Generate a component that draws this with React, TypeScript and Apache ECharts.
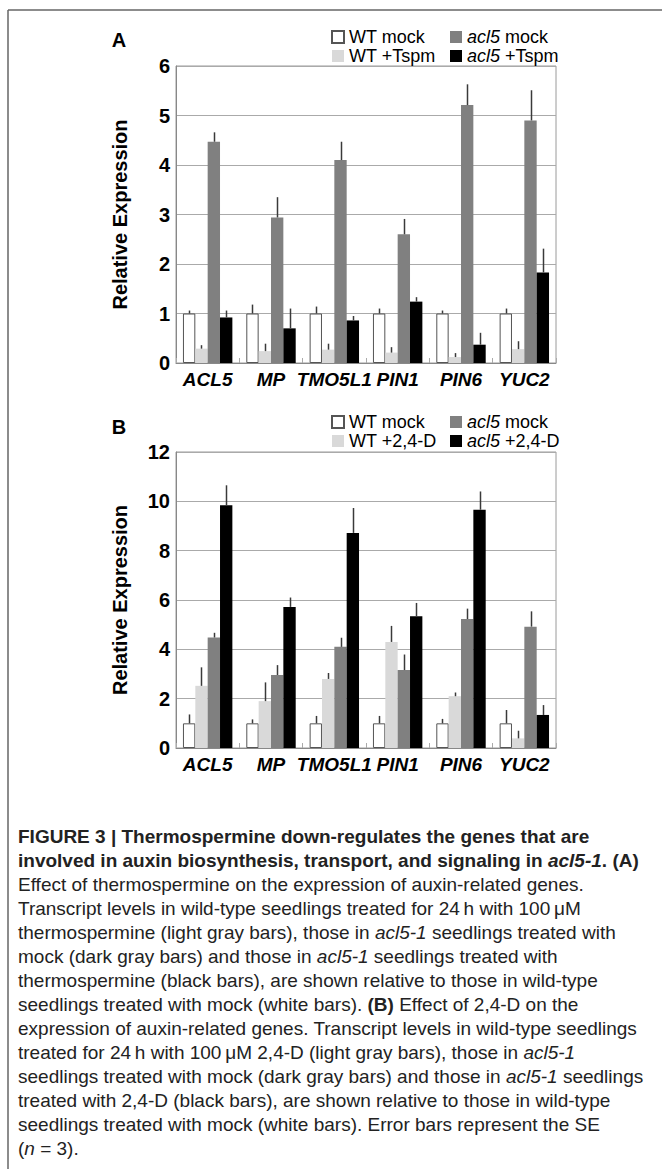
import React, { useEffect, useRef } from "react";
import * as echarts from "echarts";

const genes = ["ACL5", "MP", "TMO5L1", "PIN1", "PIN6", "YUC2"];

// Panel A
const seriesNamesA = ["WT mock", "WT +Tspm", "acl5 mock", "acl5 +Tspm"];
const wtMockA = [1, 1, 1, 1, 1, 1];
const wtMockSeA = [0.06, 0.18, 0.14, 0.1, 0.06, 0.1];
const wtTspmA = [0.29, 0.24, 0.27, 0.21, 0.12, 0.28];
const wtTspmSeA = [0.07, 0.15, 0.12, 0.11, 0.08, 0.16];
const acl5MockA = [4.47, 2.94, 4.1, 2.6, 5.21, 4.9];
const acl5MockSeA = [0.19, 0.41, 0.37, 0.31, 0.42, 0.61];
const acl5TspmA = [0.92, 0.7, 0.86, 1.24, 0.37, 1.83];
const acl5TspmSeA = [0.14, 0.4, 0.09, 0.09, 0.24, 0.48];
const yTicksA = { min: 0, max: 6, interval: 1 };

// Panel B
const seriesNamesB = ["WT mock", "WT +2,4-D", "acl5 mock", "acl5 +2,4-D"];
const wtMockB = [1, 1, 1, 1, 1, 1];
const wtMockSeB = [0.36, 0.16, 0.3, 0.3, 0.18, 0.54];
const wt24dB = [2.52, 1.9, 2.8, 4.3, 2.1, 0.39];
const wt24dSeB = [0.75, 0.76, 0.24, 0.65, 0.15, 0.31];
const acl5MockB = [4.48, 2.96, 4.1, 3.16, 5.23, 4.92];
const acl5MockSeB = [0.19, 0.4, 0.37, 0.63, 0.42, 0.62];
const acl5_24dB = [9.84, 5.72, 8.72, 5.34, 9.66, 1.34];
const acl5_24dSeB = [0.81, 0.38, 1.01, 0.54, 0.74, 0.4];
const yTicksB = { min: 0, max: 12, interval: 2 };

const captionLines = [
  "{b|FIGURE 3 | Thermospermine down-regulates the genes that are}",
  "{b|involved in auxin biosynthesis, transport, and signaling in }{bi|acl5-1}{b|. (A)}",
  "Effect of thermospermine on the expression of auxin-related genes.",
  "Transcript levels in wild-type seedlings treated for 24\u2009h with 100\u2009\u03bcM",
  "thermospermine (light gray bars), those in {i|acl5-1} seedlings treated with",
  "mock (dark gray bars) and those in {i|acl5-1} seedlings treated with",
  "thermospermine (black bars), are shown relative to those in wild-type",
  "seedlings treated with mock (white bars). {b|(B)} Effect of 2,4-D on the",
  "expression of auxin-related genes. Transcript levels in wild-type seedlings",
  "treated for 24\u2009h with 100\u2009\u03bcM 2,4-D (light gray bars), those in {i|acl5-1}",
  "seedlings treated with mock (dark gray bars) and those in {i|acl5-1} seedlings",
  "treated with 2,4-D (black bars), are shown relative to those in wild-type",
  "seedlings treated with mock (white bars). Error bars represent the SE",
  "({i|n} = 3).",
];

const COLORS = ["#ffffff", "#d9d9d9", "#808080", "#000000"];
const CAT_GAP = 0.22;
const SANS = "'Liberation Sans', Arial, Helvetica, sans-serif";
const CAP_SIZE = 19;

export default function App() {
  const ref = useRef<HTMLDivElement>(null);
  useEffect(() => {
    document.body.style.margin = "0";
    const chart = echarts.init(ref.current!, null, { renderer: "svg" });

    const panels = [
      {
        names: seriesNamesA,
        vals: [wtMockA, wtTspmA, acl5MockA, acl5TspmA],
        ses: [wtMockSeA, wtTspmSeA, acl5MockSeA, acl5TspmSeA],
        ticks: yTicksA,
        top: 66,
        height: 297,
      },
      {
        names: seriesNamesB,
        vals: [wtMockB, wt24dB, acl5MockB, acl5_24dB],
        ses: [wtMockSeB, wt24dSeB, acl5MockSeB, acl5_24dSeB],
        ticks: yTicksB,
        top: 452,
        height: 296,
      },
    ];

    const grids: any[] = [];
    const xAxes: any[] = [];
    const yAxes: any[] = [];
    const series: any[] = [];
    const legends: any[] = [];

    const legendFormatter = (name: string) =>
      name.startsWith("acl5") ? "{i|acl5}" + name.slice(4) : name;
    const legendText = {
      fontFamily: SANS,
      fontSize: 18,
      color: "#000",
      lineHeight: 16,
      rich: { i: { fontStyle: "italic", fontFamily: SANS, fontSize: 18, color: "#000" } },
    };

    panels.forEach((p, pi) => {
      grids.push({
        left: 176,
        top: p.top,
        width: 380,
        height: p.height,
        show: true,
        borderColor: "#9a9a9a",
        borderWidth: 1,
        backgroundColor: "transparent",
      });
      xAxes.push({
        type: "category",
        gridIndex: pi,
        data: genes,
        axisLine: { show: true, lineStyle: { color: "#888", width: 1 } },
        axisTick: { show: true, inside: true, length: 5, lineStyle: { color: "#aaa" } },
        axisLabel: {
          interval: 0,
          margin: 7,
          fontFamily: SANS,
          fontSize: 19,
          fontWeight: "bold",
          fontStyle: "italic",
          color: "#000",
        },
      });
      yAxes.push({
        type: "value",
        gridIndex: pi,
        min: p.ticks.min,
        max: p.ticks.max,
        interval: p.ticks.interval,
        name: "Relative Expression",
        nameLocation: "middle",
        nameRotate: 90,
        nameGap: 46,
        nameTextStyle: { fontFamily: SANS, fontSize: 20, fontWeight: "bold", color: "#000" },
        axisLine: { show: true, lineStyle: { color: "#888", width: 1 } },
        axisTick: { show: false },
        splitLine: { show: true, lineStyle: { color: "#aaa", width: 1 } },
        axisLabel: {
          margin: 6,
          fontFamily: SANS,
          fontSize: 20,
          fontWeight: "bold",
          color: "#000",
        },
      });
      p.names.forEach((name, si) => {
        series.push({
          type: "bar",
          name,
          xAxisIndex: pi,
          yAxisIndex: pi,
          data: p.vals[si],
          barGap: "0%",
          barCategoryGap: CAT_GAP * 100 + "%",
          itemStyle: {
            color: COLORS[si],
            borderColor: si === 0 ? "#555" : COLORS[si],
            borderWidth: si === 0 ? 1 : 0,
          },
          z: 2,
        });
      });
      const errData: number[][] = [];
      p.names.forEach((_, si) => {
        p.vals[si].forEach((v, ci) => {
          errData.push([ci, si, v, v + p.ses[si][ci]]);
        });
      });
      series.push({
        type: "custom",
        name: "err" + pi,
        xAxisIndex: pi,
        yAxisIndex: pi,
        data: errData,
        z: 5,
        encode: { x: 0, y: 3 },
        renderItem: (params: any, api: any) => {
          const ci = api.value(0);
          const si = api.value(1);
          const a = api.coord([ci, api.value(2)]);
          const b = api.coord([ci, api.value(3)]);
          const catW = api.size([1, 0])[0];
          const bw = (catW * (1 - CAT_GAP)) / 4;
          const x = Math.round(a[0] + (si - 1.5) * bw) + 0.5;
          return {
            type: "line",
            shape: { x1: x, y1: a[1], x2: x, y2: b[1] },
            style: { stroke: "#3a3a3a", lineWidth: 1.5 },
          };
        },
      });
      const legTop = pi === 0 ? 28 : 413;
      legends.push({
        data: [p.names[0], p.names[1]],
        orient: "vertical",
        left: 331,
        top: legTop,
        itemWidth: 12,
        itemHeight: 12,
        itemGap: 1,
        padding: 0,
        icon: "rect",
        selectedMode: false,
        formatter: legendFormatter,
        textStyle: legendText,
      });
      legends.push({
        data: [p.names[2], p.names[3]],
        orient: "vertical",
        left: 450,
        top: legTop,
        itemWidth: 12,
        itemHeight: 12,
        itemGap: 1,
        padding: 0,
        icon: "rect",
        selectedMode: false,
        formatter: legendFormatter,
        textStyle: legendText,
      });
    });

    const captionRich = {
      b: { fontFamily: SANS, fontSize: CAP_SIZE, fontWeight: "bold", color: "#111" },
      bi: { fontFamily: SANS, fontSize: CAP_SIZE, fontWeight: "bold", fontStyle: "italic", color: "#111" },
      i: { fontFamily: SANS, fontSize: CAP_SIZE, fontStyle: "italic", color: "#222" },
    };

    const graphics: any[] = [
      { type: "line", shape: { x1: 8, y1: 10, x2: 662, y2: 10 }, style: { stroke: "#666", lineWidth: 1.5 } },
      { type: "line", shape: { x1: 8, y1: 10, x2: 8, y2: 1169 }, style: { stroke: "#666", lineWidth: 1.5 } },
      {
        type: "text",
        x: 119,
        y: 40,
        style: { text: "A", font: "bold 20px " + SANS, fill: "#000", align: "center", verticalAlign: "middle" },
      },
      {
        type: "text",
        x: 119,
        y: 427,
        style: { text: "B", font: "bold 20px " + SANS, fill: "#000", align: "center", verticalAlign: "middle" },
      },
    ];
    captionLines.forEach((line, i) => {
      graphics.push({
        type: "text",
        x: 18,
        y: 836 + i * 24,
        style: {
          text: line,
          fontFamily: SANS,
          fontSize: CAP_SIZE,
          fill: "#222",
          verticalAlign: "middle",
          rich: captionRich,
        },
      });
    });

    chart.setOption({
      animation: false,
      backgroundColor: "#fff",
      grid: grids,
      xAxis: xAxes,
      yAxis: yAxes,
      legend: legends,
      series,
      graphic: graphics,
    });
    return () => chart.dispose();
  }, []);
  return <div ref={ref} style={{ width: 662, height: 1169 }} />;
}
